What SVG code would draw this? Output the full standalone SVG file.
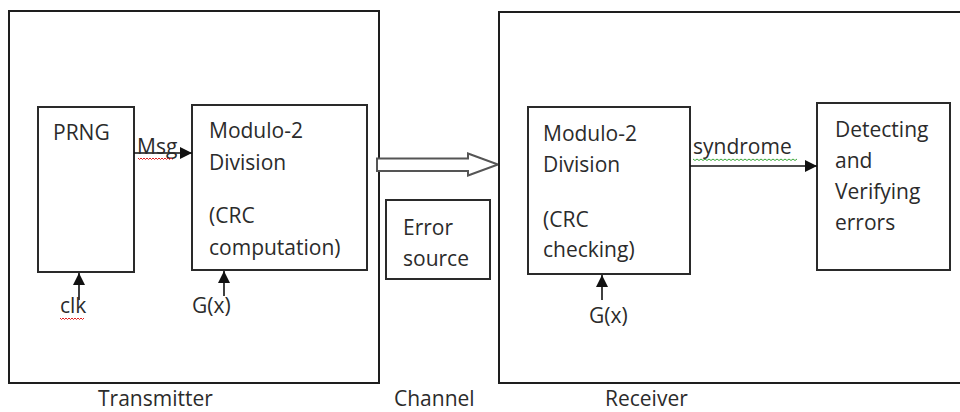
<svg xmlns="http://www.w3.org/2000/svg" width="960" height="412" viewBox="0 0 960 412">
  <defs>
    <style>
      .frame { fill: #fff; stroke: #1e1e1e; stroke-width: 2; }
      .box { fill: #fff; stroke: #2a2a2a; stroke-width: 2; }
      .lbl { font-family: "Open Sans", "Noto Sans", "DejaVu Sans", sans-serif; font-size: 21px; fill: #2b2b2b; }
      .wire { stroke: #111; stroke-width: 1.6; fill: none; }
      .spell-red { stroke: #e02020; stroke-width: 1; fill: none; }
      .spell-green { stroke: #3aa63a; stroke-width: 1; fill: none; }
    </style>
    <marker id="tri" viewBox="0 0 12 12" refX="12" refY="6" markerWidth="12" markerHeight="12" markerUnits="userSpaceOnUse" orient="auto">
      <path d="M0,0 L12,6 L0,12 Z" fill="#111"/>
    </marker>
  </defs>

  <rect width="960" height="412" fill="#fff"/>

  <!-- Transmitter section -->
  <g id="transmitter">
    <rect class="frame" x="9" y="11" width="370" height="372"/>
    <text class="lbl" x="98" y="406">Transmitter</text>
  </g>

  <g id="prng">
    <rect class="box" x="38" y="107" width="96" height="165"/>
    <text class="lbl" x="53" y="140">PRNG</text>
  </g>

  <g id="tx-division">
    <rect class="box" x="192" y="105" width="175" height="165"/>
    <text class="lbl" x="209" y="138">Modulo-2</text>
    <text class="lbl" x="209" y="170">Division</text>
    <text class="lbl" x="209" y="223">(CRC</text>
    <text class="lbl" x="209" y="255">computation)</text>
  </g>

  <!-- Channel -->
  <g id="channel">
    <path d="M377,158.5 L468,158.5 L468,153.5 L498,164.5 L468,175.5 L468,171 L377,171 Z" fill="#fff" stroke="#555" stroke-width="2" stroke-linejoin="miter"/>
    <text class="lbl" x="394" y="406">Channel</text>
  </g>

  <g id="error-source">
    <rect class="box" x="386" y="200" width="104" height="79"/>
    <text class="lbl" x="403" y="235">Error</text>
    <text class="lbl" x="403" y="266">source</text>
  </g>

  <!-- Receiver section -->
  <g id="receiver">
    <rect class="frame" x="499" y="12" width="470" height="371"/>
    <text class="lbl" x="605" y="406">Receiver</text>
  </g>

  <g id="rx-division">
    <rect class="box" x="528" y="107" width="162" height="167"/>
    <text class="lbl" x="543" y="141">Modulo-2</text>
    <text class="lbl" x="543" y="172">Division</text>
    <text class="lbl" x="543" y="227">(CRC</text>
    <text class="lbl" x="543" y="257">checking)</text>
  </g>

  <g id="detector">
    <rect class="box" x="817" y="103" width="133" height="167"/>
    <text class="lbl" x="835" y="137">Detecting</text>
    <text class="lbl" x="835" y="168">and</text>
    <text class="lbl" x="835" y="199">Verifying</text>
    <text class="lbl" x="835" y="230">errors</text>
  </g>

  <!-- Connectors -->
  <g id="connectors">
    <line class="wire" x1="134" y1="153" x2="192" y2="153" marker-end="url(#tri)"/>
    <line class="wire" x1="79" y1="300" x2="79" y2="273" marker-end="url(#tri)"/>
    <line class="wire" x1="224" y1="296" x2="224" y2="271" marker-end="url(#tri)"/>
    <line class="wire" x1="602" y1="300" x2="602" y2="275" marker-end="url(#tri)"/>
    <line class="wire" x1="690" y1="166" x2="817" y2="166" marker-end="url(#tri)"/>
  </g>

  <!-- Connector labels -->
  <g id="connector-labels">
    <text class="lbl" x="137" y="154" font-size="19">Msg</text>
    <text class="lbl" x="60" y="313">clk</text>
    <text class="lbl" x="192" y="313">G(x)</text>
    <text class="lbl" x="589" y="323">G(x)</text>
    <text class="lbl" x="693" y="154">syndrome</text>
    <path class="spell-red" d="M138,158 l1.5,1.5 l1.5,-1.5 l1.5,1.5 l1.5,-1.5 l1.5,1.5 l1.5,-1.5 l1.5,1.5 l1.5,-1.5 l1.5,1.5 l1.5,-1.5 l1.5,1.5 l1.5,-1.5 l1.5,1.5 l1.5,-1.5 l1.5,1.5 l1.5,-1.5 l1.5,1.5 l1.5,-1.5 l1.5,1.5 l1.5,-1.5 l1.5,1.5 l1.5,-1.5 l1.5,1.5"/>
    <path class="spell-red" d="M60,318 l1.5,1.5 l1.5,-1.5 l1.5,1.5 l1.5,-1.5 l1.5,1.5 l1.5,-1.5 l1.5,1.5 l1.5,-1.5 l1.5,1.5 l1.5,-1.5 l1.5,1.5 l1.5,-1.5 l1.5,1.5 l1.5,-1.5 l1.5,1.5 l1.5,-1.5"/>
    <path class="spell-green" d="M693,159 l2,1.5 l2,-1.5 l2,1.5 l2,-1.5 l2,1.5 l2,-1.5 l2,1.5 l2,-1.5 l2,1.5 l2,-1.5 l2,1.5 l2,-1.5 l2,1.5 l2,-1.5 l2,1.5 l2,-1.5 l2,1.5 l2,-1.5 l2,1.5 l2,-1.5 l2,1.5 l2,-1.5 l2,1.5 l2,-1.5 l2,1.5 l2,-1.5 l2,1.5 l2,-1.5 l2,1.5 l2,-1.5 l2,1.5 l2,-1.5 l2,1.5 l2,-1.5 l2,1.5 l2,-1.5 l2,1.5 l2,-1.5 l2,1.5 l2,-1.5 l2,1.5 l2,-1.5 l2,1.5 l2,-1.5 l2,1.5 l2,-1.5 l2,1.5 l2,-1.5 l2,1.5 l2,-1.5 l2,1.5 l2,-1.5"/>
  </g>
</svg>
